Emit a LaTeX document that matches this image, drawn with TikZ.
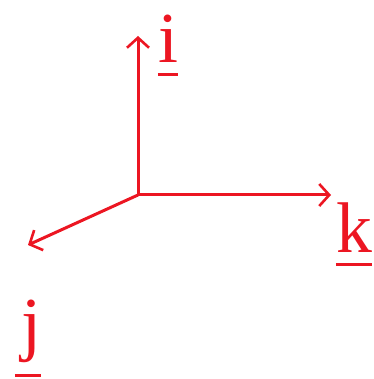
\documentclass[tikz,border=0pt]{standalone}
\usepackage{fontspec}
\setmainfont{Liberation Serif}
\usetikzlibrary{arrows.meta}
\definecolor{vecred}{RGB}{236,22,34}
\tikzset{
  axis/.style={draw=vecred, line width=3bp, -{Straight Barb[length=10bp,width=22bp,line width=2.6bp]}},
  lbl/.style={text=vecred, inner sep=0pt, anchor=base, font=\fontsize{72}{72}\selectfont},
  uline/.style={draw=vecred, line width=3bp}
}
\begin{document}
\begin{tikzpicture}[x=1bp,y=1bp]
\useasboundingbox (0,0) rectangle (374,379);
\coordinate (O) at (138,184);
\coordinate (I) at (138,343);
\coordinate (K) at (331,184);
\coordinate (J) at (28,134);
\draw[axis] (O) -- (I);
\draw[axis] (O) -- (K);
\draw[axis] (O) -- (J);
\node[lbl] (li) at (168,317) {i};
\node[lbl] (lk) at (354,127) {k};
\node[lbl] (lj) at (31,32) {j};
\draw[uline] ([yshift=-13bp]li.base west) -- ([yshift=-13bp]li.base east);
\draw[uline] ([yshift=-13bp]lk.base west) -- ([yshift=-13bp]lk.base east);
\draw[uline] ([xshift=-6bp,yshift=-28bp]lj.base west) -- ([yshift=-28bp]lj.base east);
\end{tikzpicture}
\end{document}
